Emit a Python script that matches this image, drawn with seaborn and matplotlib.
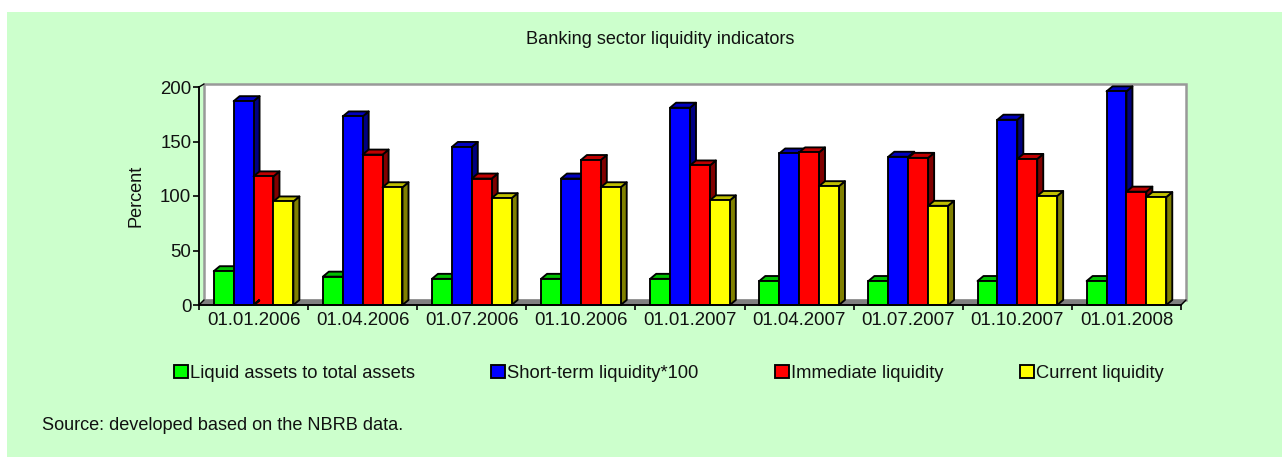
import numpy as np
import pandas as pd
import matplotlib
matplotlib.use("Agg")
import matplotlib.pyplot as plt
from matplotlib.patches import Polygon, Rectangle
from matplotlib.transforms import offset_copy
import seaborn as sns

dates = ["01.01.2006", "01.04.2006", "01.07.2006", "01.10.2006", "01.01.2007",
         "01.04.2007", "01.07.2007", "01.10.2007", "01.01.2008"]
liquid_assets = [31, 26, 24, 24, 24, 22, 22, 22, 22]
short_term = [187, 173, 145, 116, 181, 139, 136, 170, 196]
immediate = [118, 138, 116, 133, 128, 140, 135, 134, 104]
current = [95, 108, 98, 108, 96, 109, 91, 100, 99]
series_names = ["Liquid assets to total assets", "Short-term liquidity*100",
                "Immediate liquidity", "Current liquidity"]
series_values = [liquid_assets, short_term, immediate, current]
colors = ["#00FF00", "#0000FF", "#FF0000", "#FFFF00"]
title = "Banking sector liquidity indicators"
ylabel = "Percent"
source = "Source: developed based on the NBRB data."

df = pd.DataFrame([
    {"date": d, "series": n, "value": v}
    for n, vals in zip(series_names, series_values)
    for d, v in zip(dates, vals)
])

sns.set_theme(style="white")
plt.rcParams["font.family"] = ["Liberation Sans", "DejaVu Sans"]

W, H = 1282, 457
LW = 1.35
TXT = "#111111"
fig = plt.figure(figsize=(W / 100, H / 100), dpi=100, facecolor="white")
fig.add_artist(Rectangle((7 / W, 0), 1 - 7 / W, 1 - 12 / H, transform=fig.transFigure,
                         facecolor="#CCFFCC", edgecolor="none", zorder=-10))
ax = fig.add_axes([199 / W, 1 - 305 / H, (1181 - 199) / W, (305 - 87) / H])
ax.patch.set_visible(False)

sns.barplot(data=df, x="date", y="value", hue="series", palette=colors,
            hue_order=series_names, order=dates, width=0.73, gap=0, saturation=1,
            edgecolor="black", linewidth=LW, ax=ax)
bars = sorted(ax.patches, key=lambda p: p.get_x())
ax.set_xlim(-0.5, len(dates) - 0.5)
ax.set_ylim(0, 200)

# px -> data conversion for the pseudo-3D depth
fig.canvas.draw()
sx = (ax.transData.transform((1, 0)) - ax.transData.transform((0, 0)))[0]
sy = (ax.transData.transform((0, 1)) - ax.transData.transform((0, 0)))[1]
DX, DY = 6.0 / sx, 5.0 / sy

# Back wall and floor
back = offset_copy(ax.transAxes, fig=fig, x=5 * 0.72, y=5 * 0.72, units="points")
ax.add_patch(Rectangle((0, 0), 1, 216 / 218, transform=back, facecolor="white",
                       edgecolor="#999999", linewidth=1.8, zorder=0.5, clip_on=False))
x0, x1 = ax.get_xlim()
ax.add_patch(Polygon([(x0, 0), (x1, 0), (x1 + 5 / sx, 5 / sy), (x0 + 5 / sx, 5 / sy)],
                     closed=True, facecolor="#808080", edgecolor="#808080",
                     linewidth=0.8, zorder=0.7, clip_on=False))
# Slanted corner strokes joining the front axis to the wall
for xc, yc in ((x0, 0), (x0, 200), (x1, 0)):
    ax.plot([xc, xc + 5 / sx], [yc, yc + 3 / sy if yc else yc + 5 / sy],
            color="black", lw=1, zorder=0.8, clip_on=False)

# Bars: side, top, front painted left to right
for i, bar in enumerate(bars):
    x, w, h = bar.get_x(), bar.get_width(), bar.get_height()
    col = np.array(matplotlib.colors.to_rgb(bar.get_facecolor()))
    z = 1 + i * 0.01
    ax.add_patch(Polygon([(x + w, 0), (x + w + DX, DY), (x + w + DX, h + DY), (x + w, h)],
                         closed=True, facecolor=col * 0.5, edgecolor="black",
                         linewidth=LW, zorder=z, clip_on=False, joinstyle="round"))
    ax.add_patch(Polygon([(x, h), (x + DX, h + DY), (x + w + DX, h + DY), (x + w, h)],
                         closed=True, facecolor=col * 0.75, edgecolor="black",
                         linewidth=LW, zorder=z, clip_on=False, joinstyle="round"))
    bar.set_zorder(z + 0.001)
    bar.set_clip_on(False)

# Axes
for s in ("top", "right"):
    ax.spines[s].set_visible(False)
for s in ("left", "bottom"):
    ax.spines[s].set_color("black")
    ax.spines[s].set_linewidth(LW)
    ax.spines[s].set_zorder(5)
ax.set_xlabel("")
ax.set_ylabel(ylabel, fontsize=13.1, color=TXT)
ax.yaxis.set_label_coords((145 - 199) / (1181 - 199), 0.5)
ax.set_yticks([0, 50, 100, 150, 200])
ax.set_xticks(np.arange(len(dates)))
ax.set_xticklabels(dates)
ax.set_xticks(np.arange(len(dates) + 1) - 0.5, minor=True)
ax.tick_params(axis="x", which="major", length=0, labelsize=13.4, pad=5, labelcolor=TXT)
ax.tick_params(axis="x", which="minor", length=3.5, width=1.2, color="black", bottom=True)
ax.tick_params(axis="y", length=4, width=1.2, color="black", left=True, labelsize=13.4,
               pad=1.5, labelcolor=TXT)

handles, labels = ax.get_legend_handles_labels()
leg = ax.legend(handles, labels, ncol=4, frameon=False, loc="center left",
                bbox_to_anchor=(174 / W, 1 - 373.5 / H), bbox_transform=fig.transFigure,
                fontsize=13.25, handlelength=0.75, handleheight=0.75, handletextpad=0.12,
                columnspacing=4.15, borderpad=0, borderaxespad=0, labelcolor=TXT)
for h in leg.legend_handles:
    h.set_edgecolor("black")
    h.set_linewidth(LW)

fig.text(660 / W, 1 - 40 / H, title, ha="center", va="center", fontsize=13.1, color=TXT)
fig.text(42 / W, 1 - 426 / H, source, ha="left", va="center", fontsize=13.1, color=TXT)

fig.savefig("out.png", dpi=100, facecolor=fig.get_facecolor())
